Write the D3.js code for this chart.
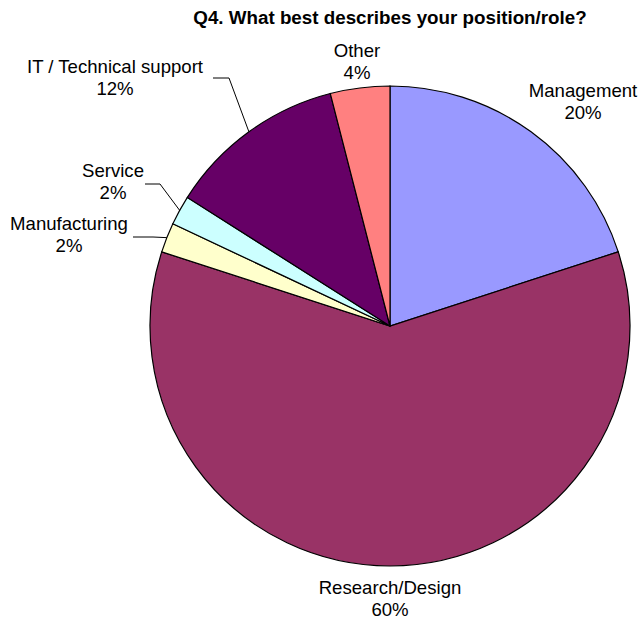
<!DOCTYPE html>
<html><head><meta charset="utf-8">
<script src="https://cdn.jsdelivr.net/npm/d3@7"></script>
<style>body{margin:0;background:#fff}svg{display:block}</style>
</head><body>
<script>
const categories = ["Management","Research/Design","Manufacturing","Service","IT / Technical support","Other"];
const values = [20,60,2,2,12,4];
const colors = ["#9999FF","#993366","#FFFFCC","#CCFFFF","#660066","#FF8080"];
const title = "Q4. What best describes your position/role?";

// layout: label centre x, first baseline y; leader line start (x,y) and elbow x (null = no leader)
const labelLayout = [
  {x:583, y:97,  lead:null},
  {x:390, y:594, lead:null},
  {x:69,  y:230, lead:[133,237,153]},
  {x:113, y:177, lead:[145,184,160]},
  {x:115, y:73,  lead:[213,78,229]},
  {x:357, y:57,  lead:null}
];

const W=644,H=620,cx=390,cy=326,R=240;
const svg=d3.select("body").append("svg").attr("width",W).attr("height",H);
svg.append("text").attr("x",390).attr("y",24).attr("text-anchor","middle")
  .attr("font-family","Liberation Sans, Arial, sans-serif").attr("font-weight","bold")
  .attr("font-size",18.8).text(title);

const total=d3.sum(values);
const pie=d3.pie().sort(null).value(d=>d)(values);
const arc=d3.arc().innerRadius(0).outerRadius(R);
const g=svg.append("g").attr("transform",`translate(${cx},${cy})`);
g.selectAll("path").data(pie).join("path").attr("d",arc)
  .attr("fill",(d,i)=>colors[i]).attr("stroke","#000").attr("stroke-width",1.2);

pie.forEach((d,i)=>{
  const L=labelLayout[i];
  const lt=svg.append("text").attr("text-anchor","middle")
    .attr("font-family","Liberation Sans, Arial, sans-serif").attr("font-size",18.6).attr("fill","#000");
  lt.append("tspan").attr("x",L.x).attr("y",L.y).text(categories[i]);
  lt.append("tspan").attr("x",L.x).attr("y",L.y+22).text(Math.round(values[i]/total*100)+"%");
  if(L.lead){
    const a=(d.startAngle+d.endAngle)/2;
    const px=cx+R*Math.sin(a), py=cy-R*Math.cos(a);
    svg.append("polyline").attr("points",`${L.lead[0]},${L.lead[1]} ${L.lead[2]},${L.lead[1]} ${px},${py}`)
      .attr("fill","none").attr("stroke","#000").attr("stroke-width",1);
  }
});
</script>
</body></html>
